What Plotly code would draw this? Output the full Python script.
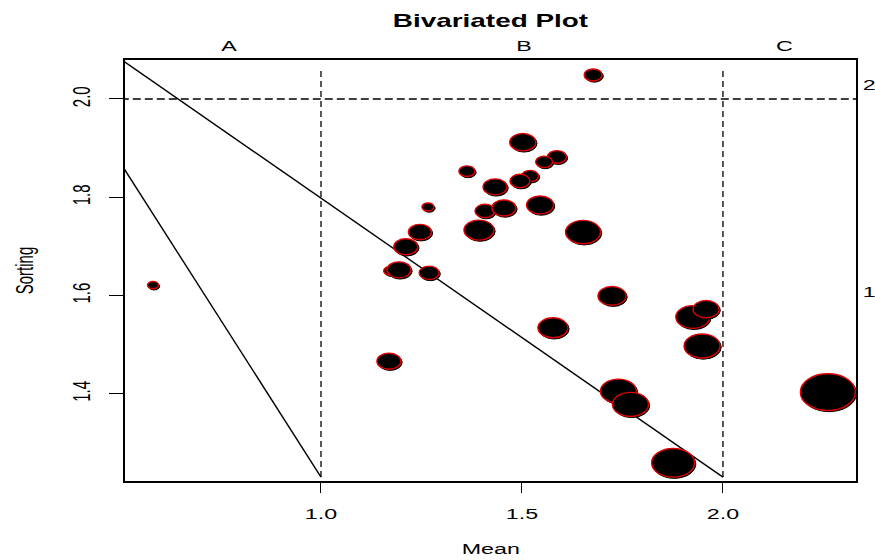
import plotly.graph_objects as go

# ---- data ----
mean = [0.582, 1.677, 1.502, 1.587, 1.555, 1.520, 1.495, 1.363, 1.433, 1.266,
        1.408, 1.455, 1.545, 1.393, 1.652, 1.246, 1.211, 1.172, 1.194, 1.269,
        1.724, 1.169, 1.577, 1.925, 1.958, 1.948, 1.740, 1.770, 1.876, 2.261]
sorting = [1.621, 2.049, 1.912, 1.882, 1.872, 1.843, 1.833, 1.853, 1.821, 1.780,
           1.772, 1.778, 1.784, 1.733, 1.729, 1.729, 1.699, 1.650, 1.652, 1.646,
           1.599, 1.466, 1.534, 1.556, 1.572, 1.497, 1.405, 1.378, 1.259, 1.403]
weight = [11, 18, 26, 19, 17, 17, 20, 16, 24, 12,
          20, 24, 27, 30, 35, 23, 24, 13, 24, 20,
          28, 24, 30, 34, 26, 36, 36, 36, 43, 55]

class_bounds = [1.0, 2.0]
bound_y = [1.23, 2.065]
sorting_ref = 2.0
line1_x = [0.5, 1.0]
line1_y = [1.871, 1.23]
line2_x = [0.5, 2.0]
line2_y = [2.082, 1.23]
zone_labels = ["A", "B", "C"]
zone_centers = [0.77, 1.505, 2.152]
side_labels = ["2", "1"]
side_pos = [2.0285, 1.607]

x_range = [0.5124, 2.331]
y_range = [1.222, 2.0794]
x_ticks = [1.0, 1.5, 2.0]
y_ticks = [1.4, 1.6, 1.8, 2.0]

W, H = 875, 560
ML, MR, MT, MB = 125, 19, 60, 79
pw, ph = W - ML - MR, H - MT - MB
px_per_x = pw / (x_range[1] - x_range[0])
px_per_y = ph / (y_range[1] - y_range[0])
STRETCH = 1.55

FONT = "Liberation Sans, Arial, Helvetica, sans-serif"

fig = go.Figure()

# reference lines
fig.add_trace(go.Scatter(x=line1_x, y=line1_y, mode="lines",
                         line=dict(color="black", width=1.4), hoverinfo="skip"))
fig.add_trace(go.Scatter(x=line2_x, y=line2_y, mode="lines",
                         line=dict(color="black", width=1.4), hoverinfo="skip"))
for b in class_bounds:
    fig.add_trace(go.Scatter(x=[b, b], y=bound_y, mode="lines",
                             line=dict(color="black", width=1.3, dash="6px,4px"),
                             hoverinfo="skip"))
fig.add_trace(go.Scatter(x=[x_range[0] - 0.1, x_range[1] + 0.1], y=[sorting_ref, sorting_ref],
                         mode="lines",
                         line=dict(color="black", width=1.3, dash="8px,4px"),
                         hoverinfo="skip"))

# bubbles as ellipses in data coordinates
shapes = []
for xv, yv, wv in zip(mean, sorting, weight):
    rx = wv / 2 / px_per_x
    ry = (wv / 1.5) / 2 / px_per_y
    sx = 1.2 / px_per_x
    sy = 1.2 / px_per_y
    shapes.append(dict(type="circle", xref="x", yref="y",
                       x0=xv - rx + sx, x1=xv + rx + sx, y0=yv - ry - sy, y1=yv + ry - sy,
                       fillcolor="black", line=dict(color="black", width=1), layer="above"))
    shapes.append(dict(type="circle", xref="x", yref="y",
                       x0=xv - rx, x1=xv + rx, y0=yv - ry, y1=yv + ry,
                       fillcolor="black", line=dict(color="#e00000", width=1.4), layer="above"))

annotations = []
for lab, xc in zip(zone_labels, zone_centers):
    annotations.append(dict(text=lab, x=xc, xref="x", y=1 + (MT - 46) / ph, yref="paper",
                            yanchor="middle", showarrow=False,
                            font=dict(family=FONT, size=15, color="black")))
for lab, yv in zip(side_labels, side_pos):
    annotations.append(dict(text=lab, x=(862.5 - ML) / pw, xref="paper", xanchor="left",
                            y=yv, yref="y", yanchor="middle", showarrow=False,
                            font=dict(family=FONT, size=15, color="black")))
# x-axis title
annotations.append(dict(text="Mean", x=0.5, xref="paper", xanchor="center",
                        y=-(548 - (MT + ph)) / ph, yref="paper", yanchor="middle",
                        showarrow=False, font=dict(family=FONT, size=15, color="black")))

fig.update_layout(
    width=W, height=H,
    margin=dict(l=ML, r=MR, t=MT, b=MB, autoexpand=False),
    paper_bgcolor="white", plot_bgcolor="white",
    showlegend=False,
    shapes=shapes,
    annotations=annotations,
    title=dict(text="<b>Bivariated Plot</b>", x=(ML + pw / 2) / W, xanchor="center",
               y=1 - 20.5 / H, yanchor="middle",
               font=dict(family=FONT, size=18, color="black")),
    font=dict(family=FONT, size=15, color="black"),
)
fig.update_xaxes(range=x_range, tickvals=x_ticks, ticktext=["1.0", "1.5", "2.0"],
                 ticks="outside", ticklen=10, tickwidth=1.3, tickcolor="black",
                 showline=True, linecolor="black", linewidth=1.5, mirror=True,
                 showgrid=False, zeroline=False, ticklabelstandoff=8, automargin=False,
                 tickfont=dict(family=FONT, size=15, color="black"))
fig.update_yaxes(range=y_range, tickvals=y_ticks, ticktext=["1.4", "1.6", "1.8", "2.0"],
                 ticks="outside", ticklen=14, tickwidth=1.3, tickcolor="black",
                 showline=True, linecolor="black", linewidth=1.5, mirror=True,
                 showgrid=False, zeroline=False, tickangle=-90, ticklabelstandoff=16,
                 automargin=False,
                 tickfont=dict(family=FONT, size=15, color="black"),
                 title=dict(text="Sorting", standoff=39, font=dict(family=FONT, size=15, color="black")))

# the reference picture is horizontally stretched; widen the text the same way
post = """
var gd = document.getElementById('{plot_id}');
gd.querySelectorAll('svg text').forEach(function(t){
  var r = t.getBoundingClientRect();
  if (!r.width) return;
  var svg = t.ownerSVGElement;
  var p = svg.createSVGPoint();
  p.x = r.left + r.width / 2; p.y = r.top + r.height / 2;
  var q = p.matrixTransform(t.parentNode.getScreenCTM().inverse());
  var tr = t.getAttribute('transform') || '';
  t.setAttribute('transform', 'translate(' + q.x + ',0) scale(%s,1) translate(' + (-q.x) + ',0) ' + tr);
});
""" % STRETCH

fig.write_html("out.html", post_script=post)
